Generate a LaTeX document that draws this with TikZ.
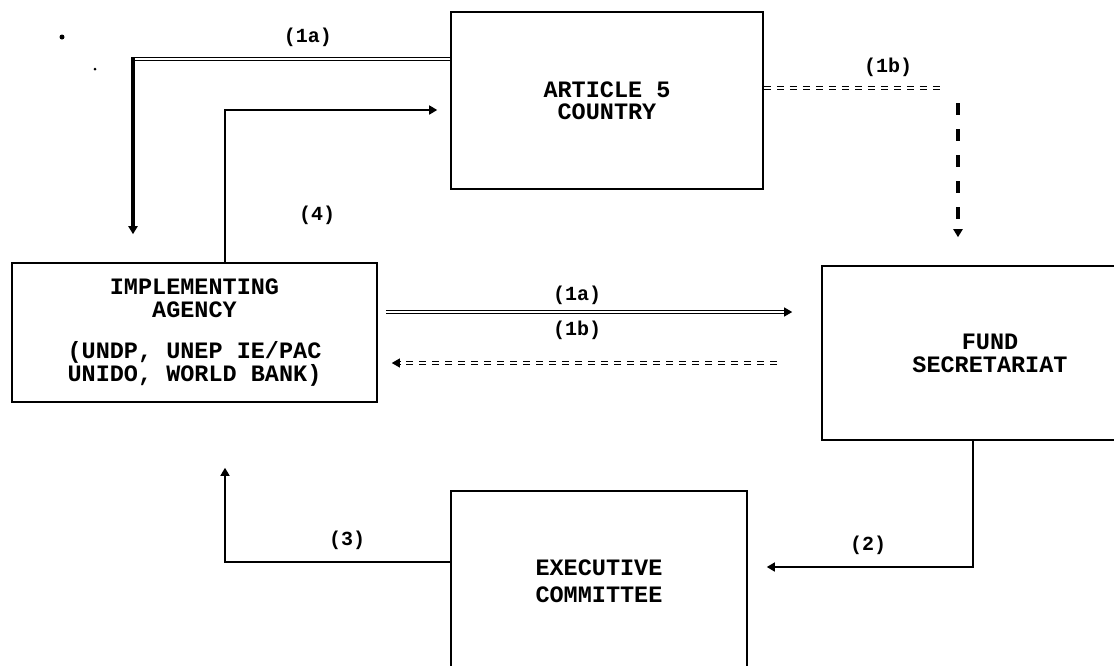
\documentclass[tikz,border=0pt]{standalone}
\usepackage{fontspec}
\newfontfamily\typewriter{Liberation Mono}
\usetikzlibrary{arrows.meta}
\begin{document}
\begin{tikzpicture}[x=1pt,y=-1pt,
  box/.style={draw, line width=1.6pt, inner sep=0pt, align=center,
    font=\typewriter\bfseries\fontsize{23.5}{23}\selectfont},
  lbl/.style={font=\typewriter\bfseries\fontsize{20}{20}\selectfont},
  solidline/.style={line width=1.6pt},
  dblline/.style={double, double distance=1.6pt, line width=0.9pt},
  dbldash/.style={double, double distance=1.4pt, line width=0.9pt, dash pattern=on 7pt off 6pt},
  heavyline/.style={line width=4pt},
  heavydash/.style={line width=4.5pt, dash pattern=on 12pt off 14pt},
  tip/.style={-{Triangle[length=8pt,width=9pt,sep=4pt]}},
]
\useasboundingbox (0,0) rectangle (1114,665);
\fill[white] (0,0) rectangle (1114,665);
\clip (0,0) rectangle (1114,665);

% boxes
\node[box, minimum width=312pt, minimum height=177pt] (art) at (607,100.5)
  {ARTICLE 5\\[-1pt]COUNTRY};
\node[box, minimum width=365pt, minimum height=139pt] (impl) at (194.5,332.5)
  {IMPLEMENTING\\AGENCY\\[18pt](UNDP, UNEP IE/PAC\\UNIDO, WORLD BANK)};
\node[box, minimum width=336pt, minimum height=174pt] (fund) at (990,353)
  {FUND\\SECRETARIAT};
\node[box, minimum width=296pt, minimum height=180pt] (exec) at (599,581)
  {EXECUTIVE\\[4pt]COMMITTEE};

% stray marks at the upper left
\fill (62,37) circle (2.5);
\fill (95,69) circle (1.5);

% (1a) country -> agency
\coordinate (k1a) at (133,59);
\draw[dblline] (k1a -| art.west) -- (k1a);
\draw[heavyline, tip, shorten >=24pt] ([yshift=2pt]k1a) -- (k1a |- impl.north);

% (1b) country -> secretariat
\coordinate (k1b) at (958,88);
\draw[dbldash, shorten >=15pt] (k1b -| art.east) -- (k1b);
\draw[heavydash, tip, shorten <=15pt, shorten >=24pt] (k1b) -- (k1b |- fund.north);

% (4) agency -> country
\coordinate (k4) at (225,110);
\draw[solidline, tip, shorten >=9pt] (k4 |- impl.north) -- (k4) -- (k4 -| art.west);

% (1a) / (1b) between agency and secretariat
\coordinate (y1a) at (0,312);
\coordinate (y1b) at (0,363);
\draw[dblline, tip, shorten <=8pt, shorten >=25pt] (impl.east |- y1a) -- (fund.west |- y1a);
\draw[dbldash, tip, shorten <=44pt, shorten >=10pt] (fund.west |- y1b) -- (impl.east |- y1b);

% (2) secretariat -> committee
\coordinate (k2) at (973,567);
\draw[solidline, tip, shorten >=15pt] (k2 |- fund.south) -- (k2) -- (k2 -| exec.east);

% (3) committee -> agency
\coordinate (k3) at (225,562);
\draw[solidline, tip, shorten >=61pt] (k3 -| exec.west) -- (k3) -- (k3 |- impl.south);

% labels
\node[lbl] (l1a) at (308,37) {(1a)};
\node[lbl] (l1b) at (888,67) {(1b)};
\node[lbl] (l4) at (317,215) {(4)};
\node[lbl] (l1am) at (577,295) {(1a)};
\node[lbl] (l1bm) at (577,330) {(1b)};
\node[lbl] (l3) at (347,540) {(3)};
\node[lbl] (l2) at (868,545) {(2)};
\end{tikzpicture}
\end{document}
